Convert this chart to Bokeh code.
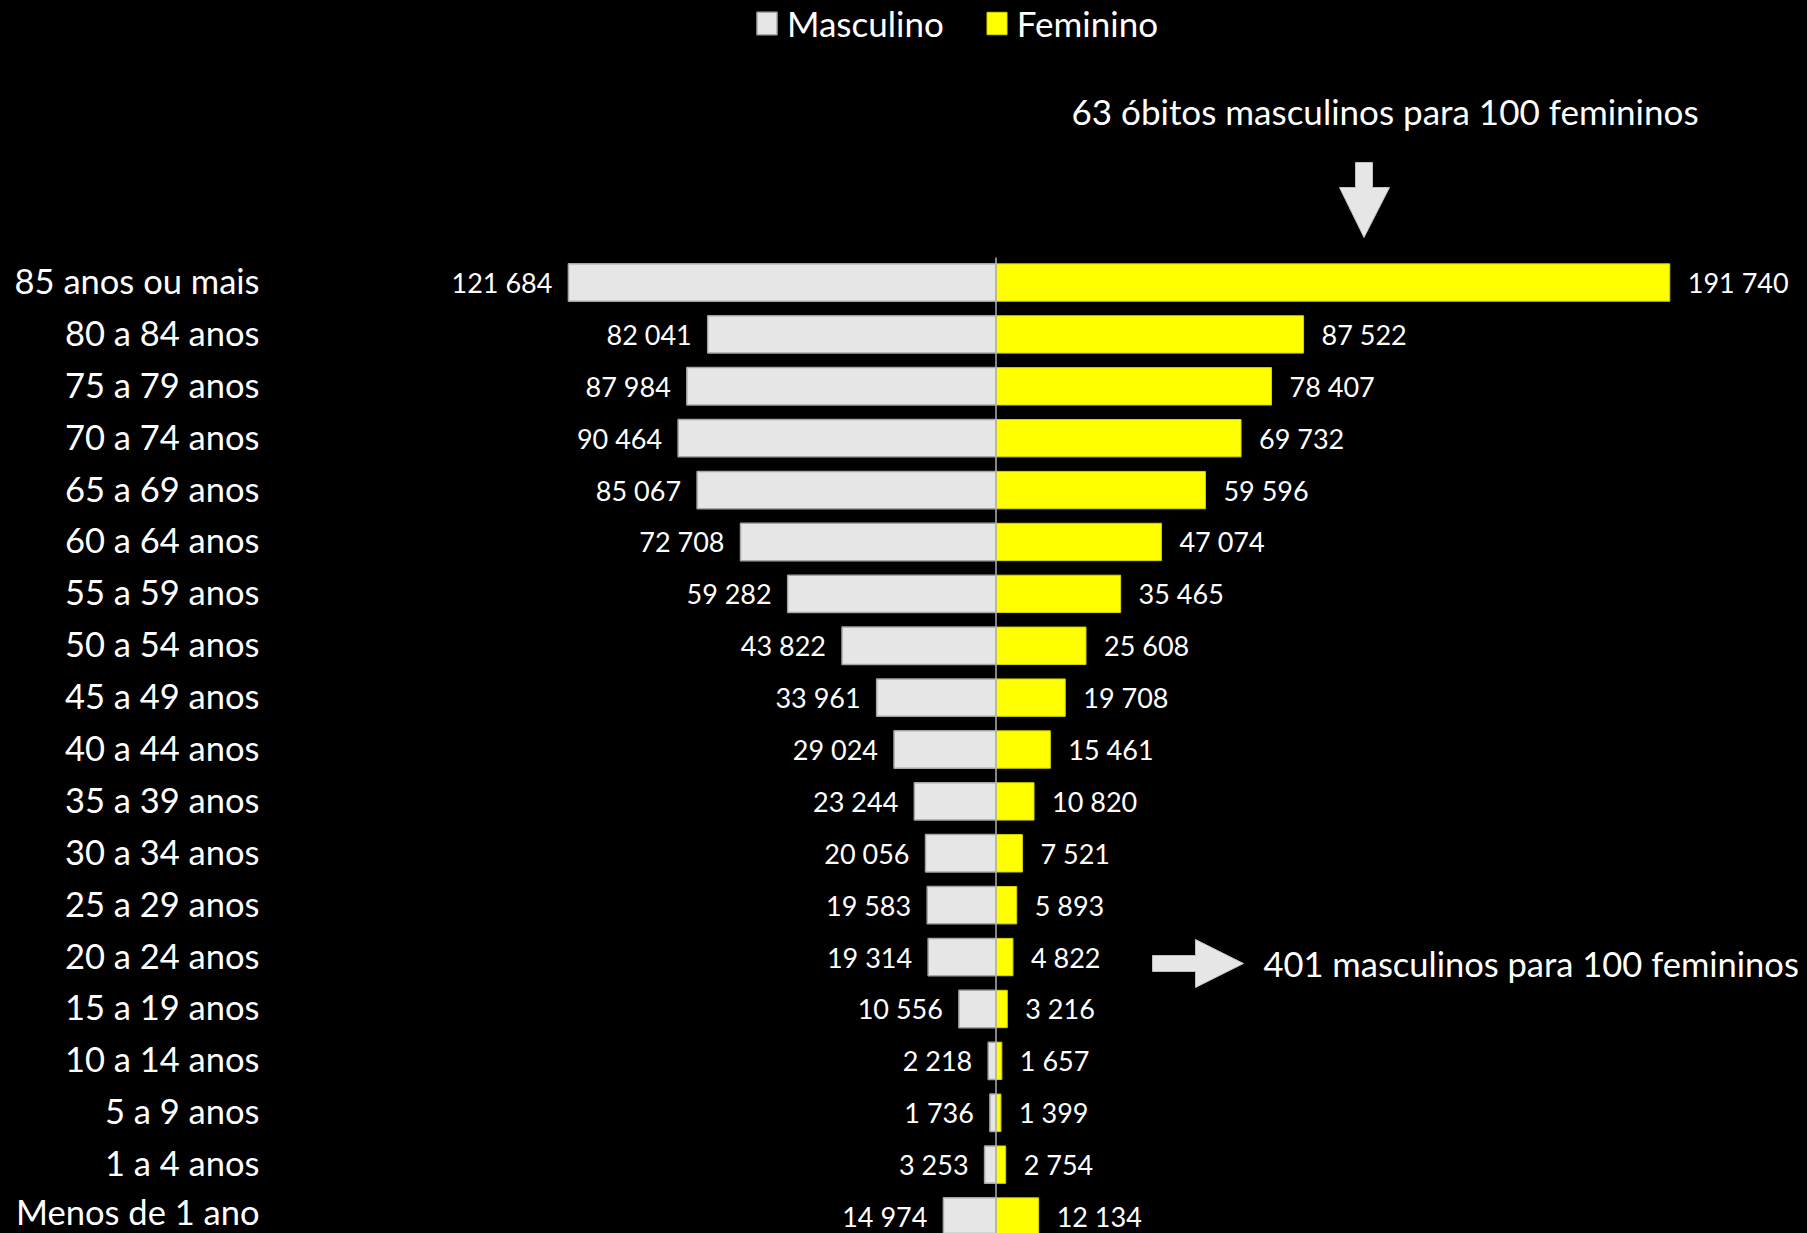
from bokeh.plotting import figure
from bokeh.models import ColumnDataSource, Range1d, Legend, LegendItem
from bokeh.core.properties import value
from bokeh.embed import file_html
from bokeh.resources import INLINE

# ---- data (top to bottom) ----
categories = ["85 anos ou mais", "80 a 84 anos", "75 a 79 anos", "70 a 74 anos",
              "65 a 69 anos", "60 a 64 anos", "55 a 59 anos", "50 a 54 anos",
              "45 a 49 anos", "40 a 44 anos", "35 a 39 anos", "30 a 34 anos",
              "25 a 29 anos", "20 a 24 anos", "15 a 19 anos", "10 a 14 anos",
              "5 a 9 anos", "1 a 4 anos", "Menos de 1 ano"]
masculino = [121684, 82041, 87984, 90464, 85067, 72708, 59282, 43822, 33961,
             29024, 23244, 20056, 19583, 19314, 10556, 2218, 1736, 3253, 14974]
feminino = [191740, 87522, 78407, 69732, 59596, 47074, 35465, 25608, 19708,
            15461, 10820, 7521, 5893, 4822, 3216, 1657, 1399, 2754, 12134]
series_names = ["Masculino", "Feminino"]
note_top = "63 óbitos  masculinos para 100 femininos"
note_mid = "401 masculinos para 100 femininos"

FONT = "Lato"
W, H = 1807, 1233
n = len(categories)

def fmt(v):
    return f"{v:,}".replace(",", " ")

ys = [n - 1 - i for i in range(n)]
src = ColumnDataSource(dict(
    y=ys, cat=categories,
    m=[-v for v in masculino], f=feminino,
    mlab=[fmt(v) for v in masculino], flab=[fmt(v) for v in feminino],
    zero=[0] * n,
    cat_dy=[-2] * (n - 1) + [-5],
))

X0, X1 = -283295, 230933
Y0, Y1 = -0.327, 23.435

def px2x(fx):
    return X0 + (X1 - X0) * fx / W

def px2y(fy):
    return Y1 - (Y1 - Y0) * fy / H

p = figure(width=W, height=H, output_backend="svg", toolbar_location=None,
           x_range=Range1d(X0, X1), y_range=Range1d(Y0, Y1),
           background_fill_color="#000000", border_fill_color="#000000",
           min_border=0, outline_line_color=None)
p.axis.visible = False
p.grid.visible = False

rm = p.hbar(y="y", left="m", right="zero", height=0.72, source=src,
            fill_color="#e6e6e6", line_color="#a6a6a6", line_width=1.5)
rf = p.hbar(y="y", left="zero", right="f", height=0.72, source=src,
            fill_color="#ffff00", line_color="#d4d400", line_width=1)

# centre line
p.segment(x0=[0], y0=[Y0], x1=[0], y1=[px2y(257)], line_color="#b0b0b0",
          line_width=1.5)

# value labels
p.text(x="m", y="y", text="mlab", source=src, text_align="right",
       text_baseline="middle", x_offset=-16, text_color="#ffffff",
       text_font=value(FONT), text_font_size="27px")
p.text(x="f", y="y", text="flab", source=src, text_align="left",
       text_baseline="middle", x_offset=18, text_color="#ffffff",
       text_font=value(FONT), text_font_size="27px")

# category labels
p.text(x=px2x(259), y="y", text="cat", source=src, text_align="right",
       text_baseline="middle", y_offset="cat_dy", text_color="#ffffff",
       text_font=value(FONT), text_font_size="34.5px")

# annotations
p.text(x=[px2x(1071)], y=[px2y(110)], text=[note_top], text_align="left",
       text_baseline="middle", text_color="#ffffff",
       text_font=value(FONT), text_font_size="35px")
p.text(x=[px2x(1263)], y=[px2y(963)], text=[note_mid], text_align="left",
       text_baseline="middle", text_color="#ffffff",
       text_font=value(FONT), text_font_size="34.5px")

# down arrow
dx = [1355, 1372, 1372, 1389, 1363.5, 1339, 1355]
dy = [162, 162, 187, 187, 237, 187, 187]
p.patch([px2x(v) for v in dx], [px2y(v) for v in dy],
        fill_color="#e6e6e6", line_color="#bfbfbf", line_width=1)
# right arrow
rx = [1152, 1195, 1195, 1243, 1195, 1195, 1152]
ry = [955, 955, 939, 963, 987, 971, 971]
p.patch([px2x(v) for v in rx], [px2y(v) for v in ry],
        fill_color="#e6e6e6", line_color="#bfbfbf", line_width=1)

legend = Legend(items=[LegendItem(label=series_names[0], renderers=[rm]),
                       LegendItem(label=series_names[1], renderers=[rf])],
                orientation="horizontal", location=(754, H - 44),
                glyph_width=25, glyph_height=28, label_standoff=8,
                spacing=40, padding=0, margin=0,
                background_fill_alpha=0, border_line_color=None,
                label_text_color="#ffffff", label_text_font=FONT,
                label_text_font_size="35px", label_height=35)
p.add_layout(legend)

html = file_html(p, INLINE)
html = html.replace("<head>", "<head><style>html,body{background:#000000;}</style>", 1)
open("out.html", "w").write(html)
